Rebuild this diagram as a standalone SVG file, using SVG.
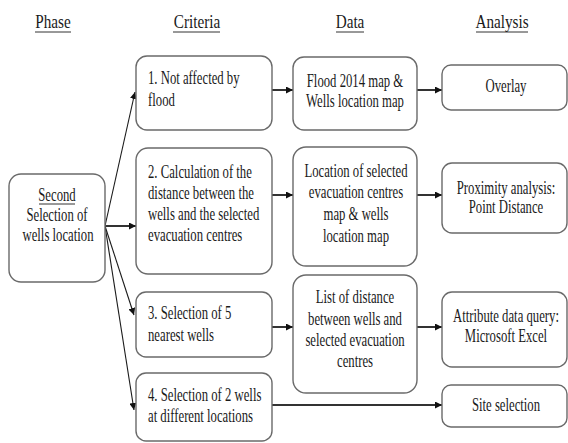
<svg xmlns="http://www.w3.org/2000/svg" width="568" height="443" viewBox="0 0 568 443">
<style>
text{font-family:"Liberation Serif","Times New Roman",serif;font-size:19px;fill:#1a1a1a}
.m{text-anchor:middle}
.box{fill:#fff;stroke:#6a6a6a;stroke-width:1.4}
.ul{stroke:#333;stroke-width:1}
.c{stroke:#1a1a1a;stroke-width:1.1;fill:none}
.h{stroke:#333;stroke-width:2;fill:none}
</style>
<defs>
<marker id="ah" viewBox="0 0 10 10" refX="10" refY="5" markerWidth="7" markerHeight="7" markerUnits="userSpaceOnUse" orient="auto">
<path d="M0,0 L10,5 L0,10 z" fill="#111"/>
</marker>
</defs>
<rect width="568" height="443" fill="#fff"/>
<g id="headers">
<text class="m" transform="matrix(0.8 0 0 1 53 28)">Phase</text>
<line class="ul" x1="35" y1="32" x2="71" y2="32"/>
<text class="m" transform="matrix(0.8 0 0 1 197 28)">Criteria</text>
<line class="ul" x1="173" y1="32" x2="220" y2="32"/>
<text class="m" transform="matrix(0.8 0 0 1 350 28)">Data</text>
<line class="ul" x1="336" y1="32" x2="364" y2="32"/>
<text class="m" transform="matrix(0.8 0 0 1 502 28)">Analysis</text>
<line class="ul" x1="476" y1="32" x2="528" y2="32"/>
</g>
<g id="connectors">
<line class="c" x1="105" y1="226" x2="135" y2="92" marker-end="url(#ah)"/>
<line class="h" x1="105" y1="226" x2="136" y2="226" marker-end="url(#ah)"/>
<line class="c" x1="105" y1="226" x2="134" y2="315" marker-end="url(#ah)"/>
<line class="c" x1="105" y1="226" x2="134" y2="410" marker-end="url(#ah)"/>
<line class="h" x1="272" y1="90" x2="293" y2="90" marker-end="url(#ah)"/>
<line class="h" x1="417" y1="90" x2="442" y2="90" marker-end="url(#ah)"/>
<line class="h" x1="272" y1="195" x2="293" y2="195" marker-end="url(#ah)"/>
<line class="h" x1="417" y1="195" x2="442" y2="195" marker-end="url(#ah)"/>
<line class="h" x1="272" y1="327" x2="293" y2="327" marker-end="url(#ah)"/>
<line class="h" x1="417" y1="327" x2="442" y2="327" marker-end="url(#ah)"/>
<line class="h" x1="272" y1="405" x2="442" y2="405" marker-end="url(#ah)"/>
</g>
<g id="phase">
<rect class="box" x="9" y="174" width="96" height="108" rx="12"/>
<text class="m" transform="matrix(0.67 0 0 1 57 201)">Second</text>
<line class="ul" x1="39" y1="204" x2="75" y2="204"/>
<text class="m" transform="matrix(0.67 0 0 1 57 221)">Selection of</text>
<text class="m" transform="matrix(0.67 0 0 1 58 241)">wells location</text>
</g>
<g id="criteria1">
<rect class="box" x="136" y="56" width="136" height="74" rx="11"/>
<text transform="matrix(0.67 0 0 1 148 84)">1. Not affected by</text>
<text transform="matrix(0.67 0 0 1 148 106)">flood</text>
</g>
<g id="criteria2">
<rect class="box" x="136" y="148" width="136" height="126" rx="12"/>
<text transform="matrix(0.67 0 0 1 148 178)">2. Calculation of the</text>
<text transform="matrix(0.67 0 0 1 148 199)">distance between the</text>
<text transform="matrix(0.67 0 0 1 148 220)">wells and the selected</text>
<text transform="matrix(0.67 0 0 1 148 241)">evacuation centres</text>
</g>
<g id="criteria3">
<rect class="box" x="136" y="292" width="136" height="65" rx="10"/>
<text transform="matrix(0.67 0 0 1 148 319)">3. Selection of 5</text>
<text transform="matrix(0.67 0 0 1 148 341)">nearest wells</text>
</g>
<g id="criteria4">
<rect class="box" x="136" y="373" width="136" height="68" rx="10"/>
<text transform="matrix(0.67 0 0 1 148 401)">4. Selection of 2 wells</text>
<text transform="matrix(0.67 0 0 1 148 422)">at different locations</text>
</g>
<g id="data1">
<rect class="box" x="293" y="57" width="124" height="73" rx="11"/>
<text class="m" transform="matrix(0.67 0 0 1 355 87)">Flood 2014 map &amp;</text>
<text class="m" transform="matrix(0.67 0 0 1 355 107)">Wells location map</text>
</g>
<g id="data2">
<rect class="box" x="293" y="147" width="124" height="119" rx="13"/>
<text class="m" transform="matrix(0.67 0 0 1 356 177)">Location of selected</text>
<text class="m" transform="matrix(0.67 0 0 1 356 198)">evacuation centres</text>
<text class="m" transform="matrix(0.67 0 0 1 356 220)">map &amp; wells</text>
<text class="m" transform="matrix(0.67 0 0 1 356 242)">location map</text>
</g>
<g id="data3">
<rect class="box" x="293" y="275" width="124" height="118" rx="13"/>
<text class="m" transform="matrix(0.67 0 0 1 355 303)">List of distance</text>
<text class="m" transform="matrix(0.67 0 0 1 355 325)">between wells and</text>
<text class="m" transform="matrix(0.67 0 0 1 355 346)">selected evacuation</text>
<text class="m" transform="matrix(0.67 0 0 1 355 367)">centres</text>
</g>
<g id="analysis1">
<rect class="box" x="442" y="65" width="125" height="45" rx="9"/>
<text class="m" transform="matrix(0.67 0 0 1 506 92)">Overlay</text>
</g>
<g id="analysis2">
<rect class="box" x="442" y="163" width="125" height="70" rx="10"/>
<text class="m" transform="matrix(0.67 0 0 1 506 194)">Proximity analysis:</text>
<text class="m" transform="matrix(0.67 0 0 1 506 213)">Point Distance</text>
</g>
<g id="analysis3">
<rect class="box" x="442" y="292" width="125" height="75" rx="10"/>
<text class="m" transform="matrix(0.67 0 0 1 506 322)">Attribute data query:</text>
<text class="m" transform="matrix(0.67 0 0 1 506 342)">Microsoft Excel</text>
</g>
<g id="analysis4">
<rect class="box" x="442" y="385" width="125" height="42" rx="9"/>
<text class="m" transform="matrix(0.67 0 0 1 506 411)">Site selection</text>
</g>
</svg>
